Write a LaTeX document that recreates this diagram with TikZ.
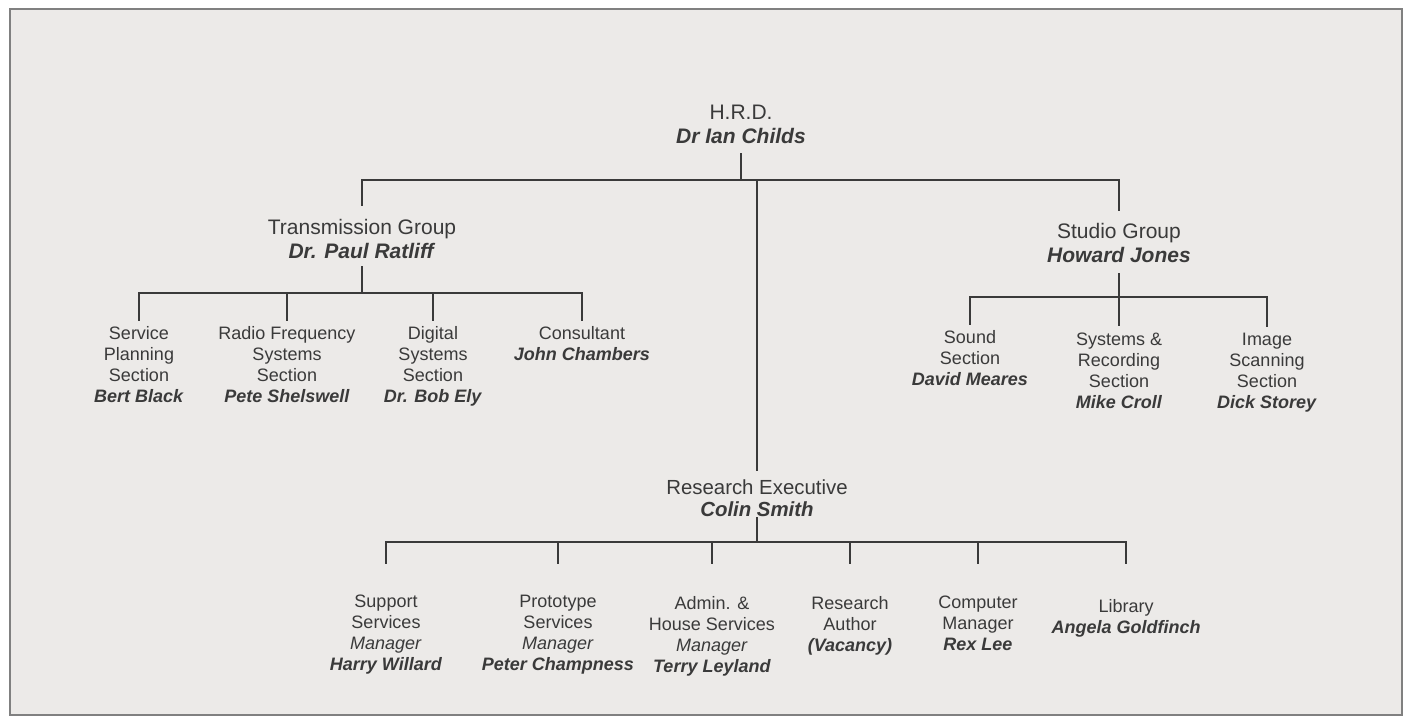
\documentclass[tikz,border=0pt]{standalone}
\usepackage{fontspec}
\setmainfont{Liberation Sans}

\definecolor{paper}{HTML}{ECEAE8}
\definecolor{ink}{HTML}{3A3A3A}
\definecolor{frame}{HTML}{808080}
\newcommand{\who}[1]{\textbf{\textit{#1}}}

\begin{document}
\begin{tikzpicture}[x=0.5pt,y=-0.5pt,
		post/.style={align=center, inner sep=0pt, anchor=north, text=ink, font=\fontsize{9}{10.5}\selectfont},
		head/.style={post, font=\fontsize{10.5}{12}\selectfont},
		link/.style={draw=ink, line width=1.3pt, line cap=rect}]
	\useasboundingbox (0,0) rectangle (1409,719);
	\fill[white] (0,0) rectangle (1409,719);
	\filldraw[fill=paper, draw=frame, line width=1pt] (10,9) rectangle (1402,715);
	% heads
	\node[head] (hrd) at (741,105) {H.R.D.\\\who{Dr Ian Childs}};
	\node[head] (trans) at (362,219) {Transmission Group\\\who{Dr. Paul Ratliff}};
	\node[head] (studio) at (1119,223) {Studio Group\\\who{Howard Jones}};
	\node[head, font=\fontsize{10.2}{11}\selectfont] (exec) at (757,479) {Research Executive\\\who{Colin Smith}};
	% transmission sections
	\node[post] (svc) at (139,326) {Service\\Planning\\Section\\\who{Bert Black}};
	\node[post] (rf) at (287,326) {Radio Frequency\\Systems\\Section\\\who{Pete Shelswell}};
	\node[post] (dig) at (433,326) {Digital\\Systems\\Section\\\who{Dr. Bob Ely}};
	\node[post] (cons) at (582,326) {Consultant\\\who{John Chambers}};
	% studio sections
	\node[post] (sound) at (970,330) {Sound\\Section\\\who{David Meares}};
	\node[post] (sysrec) at (1119,333) {Systems \&\\Recording\\Section\\\who{Mike Croll}};
	\node[post] (image) at (1267,333) {Image\\Scanning\\Section\\\who{Dick Storey}};
	% research executive
	\node[post] (support) at (386,595) {Support\\Services\\\textit{Manager}\\\who{Harry Willard}};
	\node[post] (proto) at (558,595) {Prototype\\Services\\\textit{Manager}\\\who{Peter Champness}};
	\node[post] (admin) at (712,596) {Admin. \&\\House Services\\\textit{Manager}\\\who{Terry Leyland}};
	\node[post] (author) at (850,596) {Research\\Author\\\who{(Vacancy)}};
	\node[post] (comp) at (978,596) {Computer\\Manager\\\who{Rex Lee}};
	\node[post] (lib) at (1126,599) {Library\\\who{Angela Goldfinch}};

	\coordinate (topbar) at (741,180);
	\coordinate (tbar) at (362,293);
	\coordinate (sbar) at (1119,297);
	\coordinate (ebar) at (757,542);
	\draw[link] ([yshift=-5pt]hrd.south) -- (topbar);
	\draw[link] ([yshift=7pt]trans.north) |- (topbar) -| ([yshift=6.5pt]studio.north);
	\draw[link] (topbar -| exec) -- ([yshift=4.5pt]exec.north);
	% transmission
	\draw[link] ([yshift=-4pt]trans.south) -- (tbar);
	\draw[link] (svc.north |- tbar) -- (cons.north |- tbar);
	\foreach \n in {svc,rf,dig,cons}
		\draw[link] (\n.north |- tbar) -- ++(0,27);
	% studio
	\draw[link] ([yshift=-5.5pt]studio.south) -- ([yshift=4pt]sysrec.north);
	\draw[link] (sound.north |- sbar) -- ++(0,27);
	\draw[link] (sound.north |- sbar) -- (image.north |- sbar) -- ++(0,29);
	% research
	\draw[link] ([yshift=-1pt]exec.south) -- (ebar);
	\draw[link] (support.north |- ebar) -- (lib.north |- ebar);
	\foreach \n in {support,proto,admin,author,comp,lib}
		\draw[link] (\n.north |- ebar) -- ++(0,21);
\end{tikzpicture}
\end{document}
